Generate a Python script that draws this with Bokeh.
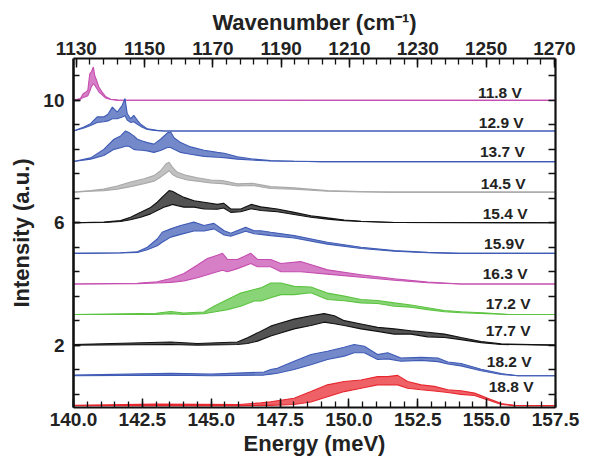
from bokeh.plotting import figure
from bokeh.models import Range1d, LinearAxis, FixedTicker, PrintfTickFormatter, ColumnDataSource
from bokeh.core.properties import value
from bokeh.embed import file_html
from bokeh.resources import INLINE

# ---------------- data ----------------
voltages = ["11.8 V", "12.9 V", "13.7 V", "14.5 V", "15.4 V", "15.9V",
            "16.3 V", "17.2 V", "17.7 V", "18.2 V", "18.8 V"]
offsets = [10, 9, 8, 7, 6, 5, 4, 3, 2, 1, 0]
colors = ["#c64eb0", "#3f5bb5", "#3f5bb5", "#a9a9a9", "#111111", "#3f5bb5",
          "#c64eb0", "#5cc341", "#111111", "#3f5bb5", "#e8262d"]

# energy (meV), upper and lower envelope of the rapidly modulated signal
e_118 = [140.0, 140.25, 140.35, 140.44, 140.52, 140.59, 140.65, 140.72, 140.77, 140.84, 140.92, 141.04, 141.16, 141.35, 141.6, 157.5]
u_118 = [0, 0.06, 0.22, 0.27, 0.33, 0.87, 0.93, 1.09, 0.82, 0.65, 0.44, 0.27, 0.13, 0.04, 0.01, 0]
l_118 = [0, 0.04, 0.10, 0.12, 0.15, 0.30, 0.45, 0.55, 0.50, 0.40, 0.28, 0.18, 0.08, 0.03, 0.01, 0]

e_129 = [140.0, 140.38, 140.62, 140.86, 141.1, 141.25, 141.41, 141.59, 141.77, 141.87, 141.95, 142.07, 142.19, 142.32, 142.44, 142.68, 143.04, 143.3, 157.5]
u_129 = [0, 0.13, 0.24, 0.46, 0.46, 0.55, 0.78, 0.62, 0.84, 1.06, 0.57, 0.40, 0.51, 0.35, 0.22, 0.07, 0.02, 0, 0]
l_129 = [0, 0.10, 0.18, 0.28, 0.30, 0.33, 0.40, 0.40, 0.46, 0.50, 0.36, 0.28, 0.30, 0.22, 0.15, 0.05, 0.01, 0, 0]

e_137 = [140.0, 140.62, 141.1, 141.47, 141.71, 141.89, 142.01, 142.19, 142.32, 142.5, 142.68, 142.92, 143.16, 143.41, 143.53, 143.65, 143.89, 144.25, 144.74, 145.22, 145.47, 145.95, 146.44, 147.16, 148.0, 149.0, 157.5]
u_137 = [0, 0.12, 0.40, 0.73, 0.84, 1.0, 0.95, 0.84, 0.73, 0.67, 0.62, 0.57, 0.73, 0.94, 0.97, 0.78, 0.62, 0.48, 0.37, 0.30, 0.27, 0.16, 0.09, 0.03, 0.01, 0, 0]
l_137 = [0, 0.08, 0.20, 0.40, 0.45, 0.50, 0.50, 0.40, 0.38, 0.37, 0.35, 0.30, 0.36, 0.46, 0.46, 0.40, 0.30, 0.24, 0.17, 0.14, 0.13, 0.08, 0.05, 0.02, 0.01, 0, 0]

e_145 = [140.0, 140.62, 141.1, 141.59, 142.07, 142.56, 142.92, 143.16, 143.35, 143.47, 143.59, 143.77, 144.13, 144.5, 144.98, 145.4, 145.95, 146.5, 147.16, 148.01, 149.22, 150.44, 151.5, 157.5]
u_145 = [0, 0.05, 0.10, 0.20, 0.33, 0.44, 0.54, 0.70, 0.92, 0.98, 0.82, 0.65, 0.54, 0.47, 0.40, 0.38, 0.27, 0.29, 0.18, 0.14, 0.05, 0.02, 0, 0]
l_145 = [0, 0.03, 0.05, 0.10, 0.18, 0.28, 0.36, 0.49, 0.62, 0.70, 0.58, 0.49, 0.40, 0.36, 0.30, 0.28, 0.20, 0.22, 0.12, 0.10, 0.03, 0.01, 0, 0]

e_154 = [140.0, 141.1, 141.71, 142.07, 142.44, 142.8, 143.04, 143.28, 143.47, 143.59, 143.77, 144.01, 144.38, 144.74, 145.22, 145.45, 145.71, 146.07, 146.45, 146.8, 147.4, 148.01, 148.62, 149.22, 149.83, 150.44, 151.65, 157.5]
u_154 = [0, 0.02, 0.07, 0.18, 0.34, 0.50, 0.67, 0.89, 1.05, 1.03, 0.94, 0.83, 0.72, 0.67, 0.60, 0.64, 0.45, 0.45, 0.60, 0.52, 0.45, 0.34, 0.23, 0.16, 0.09, 0.05, 0.01, 0]
l_154 = [0, 0.01, 0.04, 0.10, 0.18, 0.29, 0.40, 0.51, 0.56, 0.60, 0.56, 0.51, 0.51, 0.45, 0.44, 0.48, 0.34, 0.36, 0.46, 0.40, 0.36, 0.27, 0.18, 0.12, 0.07, 0.04, 0.01, 0]

e_159 = [140.0, 141.7, 142.32, 142.68, 143.04, 143.22, 143.53, 143.89, 144.37, 144.74, 145.1, 145.47, 145.71, 146.25, 146.56, 146.8, 147.16, 148.01, 149.22, 150.44, 151.65, 152.86, 154.0, 157.5]
u_159 = [0, 0.02, 0.05, 0.20, 0.47, 0.69, 0.80, 0.91, 1.02, 0.91, 0.98, 0.74, 0.66, 0.85, 0.74, 0.74, 0.69, 0.58, 0.36, 0.20, 0.09, 0.03, 0, 0]
l_159 = [0, 0.01, 0.03, 0.12, 0.25, 0.36, 0.53, 0.62, 0.73, 0.73, 0.80, 0.60, 0.56, 0.72, 0.64, 0.62, 0.58, 0.50, 0.30, 0.16, 0.07, 0.02, 0, 0]

e_163 = [140.0, 142.32, 143.04, 143.53, 144.01, 144.5, 144.86, 145.22, 145.41, 145.59, 145.95, 146.44, 146.68, 147.16, 147.53, 148.25, 149.22, 150.44, 151.65, 152.86, 154.07, 157.5]
u_163 = [0, 0.02, 0.07, 0.18, 0.34, 0.62, 0.83, 0.94, 1.0, 0.80, 0.80, 1.0, 0.80, 0.80, 0.67, 0.73, 0.46, 0.30, 0.17, 0.06, 0, 0]
l_163 = [0, 0.01, 0.03, 0.05, 0.10, 0.20, 0.30, 0.40, 0.45, 0.40, 0.50, 0.67, 0.56, 0.56, 0.40, 0.40, 0.32, 0.22, 0.12, 0.04, 0, 0]

e_172 = [140.0, 143.0, 143.53, 144.0, 144.74, 145.1, 145.59, 146.07, 146.56, 146.8, 147.16, 147.53, 148.01, 148.62, 149.22, 149.83, 150.44, 151.04, 151.65, 152.25, 152.86, 153.47, 154.07, 155.0, 155.8, 157.5]
u_172 = [0, 0.04, 0.10, 0.05, 0.08, 0.27, 0.49, 0.70, 0.82, 0.87, 1.03, 1.03, 0.92, 0.90, 0.70, 0.60, 0.49, 0.46, 0.38, 0.31, 0.22, 0.13, 0.09, 0.05, 0.0, 0]
l_172 = [0, 0.0, 0.03, 0.0, 0.03, 0.08, 0.16, 0.27, 0.44, 0.44, 0.55, 0.65, 0.65, 0.71, 0.49, 0.45, 0.38, 0.36, 0.27, 0.24, 0.16, 0.09, 0.06, 0.03, 0.0, 0]

e_177 = [140.0, 143.53, 144.5, 145.95, 146.32, 146.68, 147.16, 147.4, 148.01, 148.62, 149.1, 149.47, 149.83, 150.44, 151.04, 151.65, 152.25, 152.86, 153.47, 154.07, 154.8, 155.53, 157.5]
u_177 = [0.02, 0.10, 0.05, 0.10, 0.24, 0.40, 0.62, 0.69, 0.85, 0.96, 1.03, 0.96, 0.80, 0.69, 0.58, 0.53, 0.47, 0.42, 0.36, 0.25, 0.12, 0.04, 0]
l_177 = [0, 0.02, 0.0, 0.02, 0.05, 0.13, 0.30, 0.36, 0.53, 0.64, 0.75, 0.70, 0.64, 0.53, 0.45, 0.36, 0.36, 0.27, 0.25, 0.18, 0.08, 0.02, 0]

e_182 = [140.0, 143.53, 145.0, 146.92, 147.16, 147.4, 148.01, 148.62, 149.22, 149.83, 150.19, 150.56, 151.04, 151.41, 151.89, 152.62, 153.23, 153.59, 154.07, 154.8, 155.53, 156.13, 157.5]
u_182 = [0.02, 0.08, 0.05, 0.12, 0.20, 0.24, 0.47, 0.69, 0.80, 0.93, 1.02, 0.96, 0.69, 0.75, 0.58, 0.60, 0.58, 0.45, 0.40, 0.21, 0.07, 0.0, 0]
l_182 = [0, 0.02, 0.0, 0.02, 0.05, 0.08, 0.20, 0.36, 0.53, 0.64, 0.75, 0.75, 0.53, 0.55, 0.47, 0.50, 0.46, 0.38, 0.32, 0.16, 0.04, 0.0, 0]

e_188 = [140.0, 143.0, 146.0, 146.8, 147.16, 148.01, 148.62, 149.22, 149.83, 150.44, 151.04, 151.41, 151.77, 152.13, 152.62, 153.1, 153.59, 154.07, 154.56, 155.04, 155.53, 156.0, 157.5]
u_188 = [0.03, 0.07, 0.06, 0.11, 0.15, 0.26, 0.48, 0.70, 0.81, 0.86, 0.97, 0.97, 1.01, 0.81, 0.70, 0.65, 0.54, 0.51, 0.43, 0.26, 0.09, 0.03, 0.02]
l_188 = [0.02, 0.02, 0.02, 0.03, 0.03, 0.06, 0.14, 0.31, 0.48, 0.59, 0.70, 0.70, 0.70, 0.59, 0.54, 0.50, 0.45, 0.39, 0.35, 0.21, 0.06, 0.02, 0.02]

energies = [e_118, e_129, e_137, e_145, e_154, e_159, e_163, e_172, e_177, e_182, e_188]
uppers = [u_118, u_129, u_137, u_145, u_154, u_159, u_163, u_172, u_177, u_182, u_188]
lowers = [l_118, l_129, l_137, l_145, l_154, l_159, l_163, l_172, l_177, l_182, l_188]

x_ticks = [140.0, 142.5, 145.0, 147.5, 150.0, 152.5, 155.0, 157.5]
y_ticks = [2, 6, 10]
wn_ticks = [1130, 1150, 1170, 1190, 1210, 1230, 1250, 1270]

# label placement (energy, height above each trace's baseline)
label_x = [155.48, 155.53, 155.57, 155.60, 155.67, 155.64, 155.67, 155.78, 155.78, 155.82, 155.89]
label_dy = [0.26, 0.28, 0.33, 0.28, 0.30, 0.32, 0.34, 0.36, 0.47, 0.46, 0.64]

MEV_TO_CM = 8.06554
FONT = "Liberation Sans"
TXT = "#222222"

# ---------------- figure ----------------
p = figure(width=592, height=468, x_range=Range1d(140.0, 157.5), y_range=Range1d(-0.04, 11.37),
           output_backend="svg", toolbar_location=None,
           min_border_left=73, min_border_right=37, min_border_top=58, min_border_bottom=61)
p.xgrid.visible = False
p.ygrid.visible = False
p.outline_line_color = None
p.background_fill_color = "white"
p.border_fill_color = "white"

p.extra_x_ranges = {"wn": Range1d(140.0 * MEV_TO_CM, 157.5 * MEV_TO_CM)}

def style_axis(ax):
    ax.axis_line_color = "#111111"
    ax.axis_line_width = 2.2
    ax.major_tick_line_color = "#111111"
    ax.minor_tick_line_color = "#111111"
    ax.major_tick_line_width = 1.5
    ax.minor_tick_line_width = 1.3
    ax.major_tick_in = 9
    ax.major_tick_out = 0
    ax.minor_tick_in = 6
    ax.minor_tick_out = 0
    ax.major_label_text_font = FONT
    ax.major_label_text_font_style = "bold"
    ax.major_label_text_font_size = "19px"
    ax.major_label_text_color = TXT
    ax.axis_label_text_font = FONT
    ax.axis_label_text_font_style = "bold"
    ax.axis_label_text_font_size = "22px"
    ax.axis_label_text_color = TXT

y_minor = [0.4, 1.2, 2.0, 2.8, 3.6, 4.4, 5.2, 6.0, 6.8, 7.6, 8.4, 9.2, 10.0, 10.8]
x_minor = [140.0 + 0.5 * k for k in range(36)]
wn_minor = list(range(1130, 1271, 4))

xa = p.xaxis[0]
style_axis(xa)
xa.ticker = FixedTicker(ticks=x_ticks, minor_ticks=x_minor)
xa.formatter = PrintfTickFormatter(format="%.1f")
xa.axis_label = "Energy (meV)"
xa.major_label_standoff = 5
xa.axis_label_standoff = 2

ya = p.yaxis[0]
style_axis(ya)
ya.axis_line_width = 2.6
ya.major_tick_in = 7
ya.ticker = FixedTicker(ticks=y_ticks, minor_ticks=y_minor)
ya.axis_label = "Intensity (a.u.)"
ya.major_label_standoff = 9
ya.axis_label_standoff = 6

top = LinearAxis(x_range_name="wn", axis_label="Wavenumber (cm\u207b\u00b9)")
style_axis(top)
top.ticker = FixedTicker(ticks=wn_ticks, minor_ticks=wn_minor)
top.major_label_standoff = 4
top.axis_label_standoff = 4
p.add_layout(top, "above")

# right frame edge: tick marks only, no labels
right = LinearAxis()
style_axis(right)
right.minor_tick_in = 7
right.ticker = FixedTicker(ticks=[], minor_ticks=y_minor)
p.add_layout(right, "right")

# ---------------- traces ----------------
for e, u, l, off, col in zip(energies, uppers, lowers, offsets, colors):
    src = ColumnDataSource(dict(x=e, up=[off + v for v in u], lo=[off + v for v in l]))
    p.varea(x="x", y1="lo", y2="up", source=src, fill_color=col, fill_alpha=0.72)
    p.line(x="x", y="up", source=src, line_color=col, line_width=1.1)
    p.line(x="x", y="lo", source=src, line_color=col, line_width=1.1)

lab = ColumnDataSource(dict(x=label_x, y=[o + d for o, d in zip(offsets, label_dy)], t=voltages))
p.text(x="x", y="y", text="t", source=lab, text_font=value(FONT), text_font_style="bold",
       text_font_size="15.5px", text_align="center", text_baseline="middle", text_color=TXT)

open("out.html", "w").write(file_html(p, INLINE))
